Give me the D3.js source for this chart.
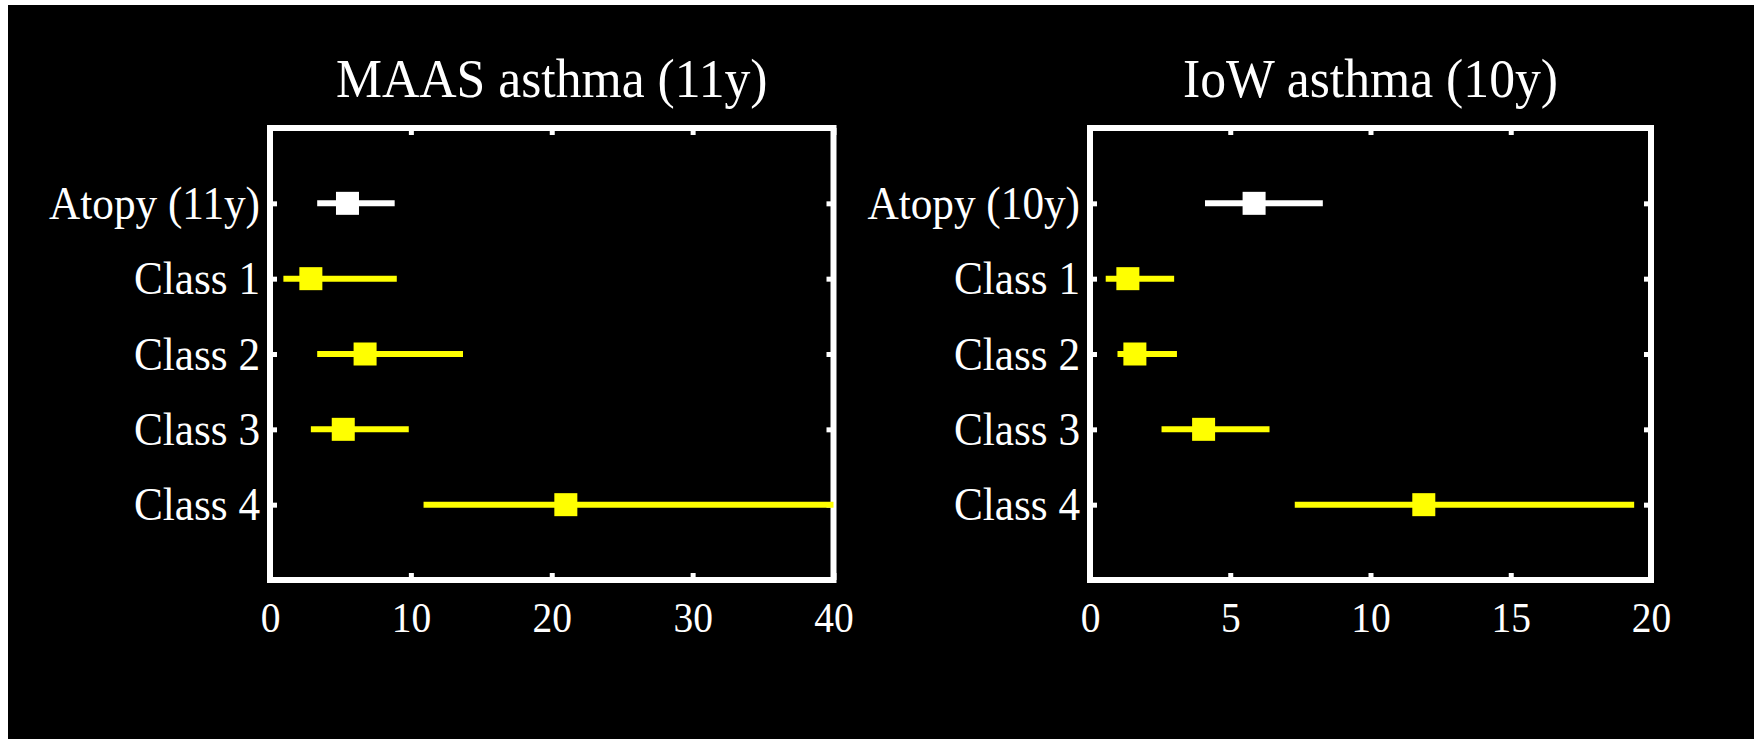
<!DOCTYPE html>
<html>
<head>
<meta charset="utf-8">
<script src="https://cdn.jsdelivr.net/npm/d3@7"></script>
<style>
  html, body { margin: 0; padding: 0; background: #ffffff; }
  svg { display: block; }
  text { font-family: "Liberation Serif", "Times New Roman", serif; fill: #ffffff; }
</style>
</head>
<body>
<svg id="chart" width="1760" height="739"></svg>
<script>
// Row labels (top to bottom)
const maasLabels = ["Atopy (11y)", "Class 1", "Class 2", "Class 3", "Class 4"];
const iowLabels  = ["Atopy (10y)", "Class 1", "Class 2", "Class 3", "Class 4"];

// Odds ratio estimates with 95% CI, MAAS asthma (11y)
const maasEst  = [5.5, 2.9, 6.75, 5.2, 21.0];
const maasLow  = [3.35, 0.95, 3.35, 2.9, 10.9];
const maasHigh = [8.85, 9.0, 13.7, 9.85, 40];

// Odds ratio estimates with 95% CI, IoW asthma (10y)
const iowEst  = [5.85, 1.35, 1.6, 4.05, 11.9];
const iowLow  = [4.1, 0.56, 0.98, 2.55, 7.3];
const iowHigh = [8.3, 3.0, 3.1, 6.4, 19.4];

// Marker colour per row
const rowColors = ["#ffffff", "#ffff00", "#ffff00", "#ffff00", "#ffff00"];

// Axis ticks
const maasTicks = [0, 10, 20, 30, 40];
const iowTicks  = [0, 5, 10, 15, 20];
const rowTicks  = [1, 2, 3, 4, 5];

// slightly narrow glyphs, like the serif face of the original figure
const SX = 0.94;

const svg = d3.select("#chart");

// page background and black figure area
svg.append("rect").attr("x", 0).attr("y", 0).attr("width", 1760).attr("height", 739).attr("fill", "#ffffff");
svg.append("rect").attr("x", 8).attr("y", 5).attr("width", 1746).attr("height", 734).attr("fill", "#000000");

function panel(cfg) {
  const x = d3.scaleLinear().domain(cfg.xDomain).range([cfg.left, cfg.right]);
  const y = d3.scaleLinear().domain([0, 6]).range([cfg.top, cfg.bottom]);
  const g = svg.append("g");

  // title
  g.append("text")
    .attr("transform", `translate(${(cfg.left + cfg.right) / 2},97) scale(${SX},1)`)
    .attr("text-anchor", "middle")
    .style("font-size", "55px")
    .text(cfg.title);

  // axes with inward ticks
  const styleAxis = sel => {
    sel.select(".domain").remove();
    sel.selectAll(".tick line").attr("stroke", "#ffffff").attr("stroke-width", 5);
  };

  const bottom = g.append("g").attr("transform", `translate(0,${cfg.bottom})`)
    .call(d3.axisBottom(x).tickValues(cfg.ticks).tickSizeInner(-7).tickSizeOuter(0).tickPadding(22).tickFormat(d3.format("d")));
  styleAxis(bottom);
  bottom.selectAll(".tick text").attr("fill", "#ffffff").style("font-size", "42px")
    .style("font-family", "'Liberation Serif', 'Times New Roman', serif")
    .attr("transform", `scale(${SX},1)`);

  const top = g.append("g").attr("transform", `translate(0,${cfg.top})`)
    .call(d3.axisTop(x).tickValues(cfg.ticks).tickSizeInner(-7).tickSizeOuter(0).tickFormat(""));
  styleAxis(top);

  const leftAx = g.append("g").attr("transform", `translate(${cfg.left},0)`)
    .call(d3.axisLeft(y).tickValues(rowTicks).tickSizeInner(-7).tickSizeOuter(0).tickPadding(10)
      .tickFormat(d => cfg.labels[d - 1]));
  styleAxis(leftAx);
  leftAx.selectAll(".tick text").attr("fill", "#ffffff").attr("dy", "0.33em").style("font-size", "46px")
    .style("font-family", "'Liberation Serif', 'Times New Roman', serif")
    .attr("x", -10 / SX)
    .attr("transform", `scale(${SX},1)`);

  const rightAx = g.append("g").attr("transform", `translate(${cfg.right},0)`)
    .call(d3.axisRight(y).tickValues(rowTicks).tickSizeInner(-7).tickSizeOuter(0).tickFormat(""));
  styleAxis(rightAx);

  // axes box
  g.append("rect")
    .attr("x", cfg.left).attr("y", cfg.top)
    .attr("width", cfg.right - cfg.left).attr("height", cfg.bottom - cfg.top)
    .attr("fill", "none").attr("stroke", "#ffffff").attr("stroke-width", 6);

  const rows = cfg.est.map((e, i) => ({ est: e, low: cfg.low[i], high: cfg.high[i], row: i + 1, color: rowColors[i] }));

  // confidence interval lines
  g.selectAll("line.ci").data(rows).enter().append("line")
    .attr("class", "ci")
    .attr("x1", d => x(d.low)).attr("x2", d => x(d.high))
    .attr("y1", d => y(d.row)).attr("y2", d => y(d.row))
    .attr("stroke", d => d.color).attr("stroke-width", 6);

  // point estimates
  const s = 23;
  g.selectAll("rect.est").data(rows).enter().append("rect")
    .attr("class", "est")
    .attr("x", d => x(d.est) - s / 2).attr("y", d => y(d.row) - s / 2)
    .attr("width", s).attr("height", s)
    .attr("fill", d => d.color);
}

panel({ title: "MAAS asthma (11y)", labels: maasLabels, est: maasEst, low: maasLow, high: maasHigh,
        xDomain: [0, 40], ticks: maasTicks, left: 270, right: 833.5, top: 128, bottom: 580 });
panel({ title: "IoW asthma (10y)", labels: iowLabels, est: iowEst, low: iowLow, high: iowHigh,
        xDomain: [0, 20], ticks: iowTicks, left: 1090, right: 1651, top: 128, bottom: 580 });
</script>
</body>
</html>
